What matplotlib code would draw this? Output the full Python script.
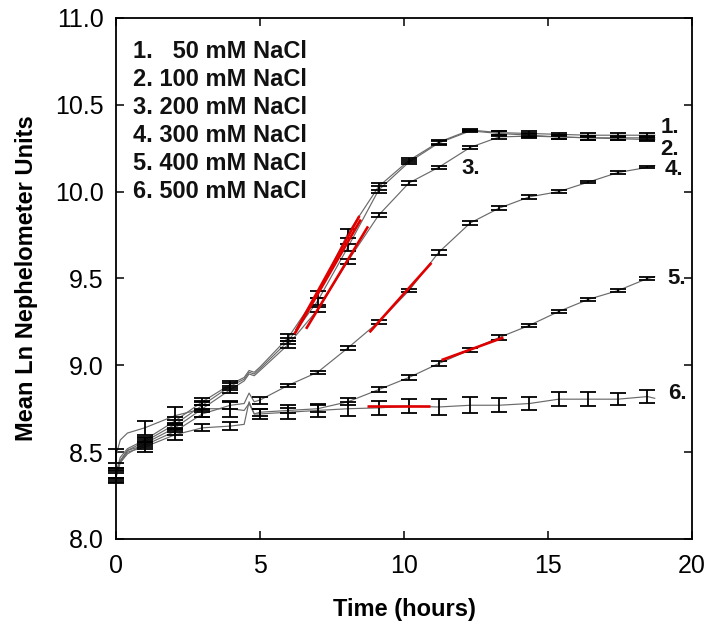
import numpy as np
import matplotlib
matplotlib.use("Agg")
import matplotlib.pyplot as plt

plt.rcParams['font.family'] = ['Liberation Sans', 'DejaVu Sans']

# ---- data ----
t_bar = [0, 1.0, 2.05, 3.0, 3.97, 5.0, 5.98, 7.0, 8.05, 9.12, 10.17, 11.2,
         12.3, 13.3, 14.35, 15.37, 16.4, 17.42, 18.45]

s1 = [8.38, 8.57, 8.68, 8.79, 8.89, 8.99, 9.16, 9.41, 9.76, 10.03, 10.18, 10.285,
      10.355, 10.34, 10.335, 10.33, 10.325, 10.325, 10.325]
s2 = [8.37, 8.56, 8.66, 8.77, 8.88, 8.98, 9.14, 9.37, 9.68, 10.01, 10.17, 10.28,
      10.35, 10.335, 10.325, 10.315, 10.31, 10.305, 10.30]
s3 = [8.36, 8.55, 8.64, 8.75, 8.86, 8.97, 9.12, 9.32, 9.60, 9.865, 10.05, 10.14,
      10.255, 10.315, 10.32, 10.315, 10.31, 10.31, 10.31]
s4 = [8.35, 8.54, 8.62, 8.72, 8.77, 8.80, 8.885, 8.96, 9.10, 9.25, 9.43, 9.65,
      9.82, 9.905, 9.97, 10.0, 10.055, 10.11, 10.14]
s5 = [8.38, 8.53, 8.60, 8.64, 8.65, 8.73, 8.74, 8.75, 8.79, 8.86, 8.93, 9.01,
      9.09, 9.16, 9.23, 9.31, 9.38, 9.43, 9.50]
s6 = [8.48, 8.64, 8.71, 8.75, 8.75, 8.72, 8.73, 8.74, 8.75, 8.755, 8.765, 8.76,
      8.77, 8.77, 8.78, 8.805, 8.805, 8.805, 8.82]

nan = float('nan')
e1 = [0.03, 0.02, 0.025, 0.02, 0.02, nan, 0.02, 0.02, 0.025, 0.02, 0.012, 0.01,
      0.004, 0.012, 0.012, 0.01, 0.012, 0.01, 0.01]
e2 = [0.03, 0.02, 0.025, 0.02, 0.02, nan, 0.02, 0.02, 0.02, 0.02, 0.012, 0.01,
      0.006, 0.012, 0.01, 0.01, 0.01, 0.01, 0.01]
e3 = [0.03, 0.02, 0.025, 0.02, 0.02, nan, 0.02, 0.015, 0.015, 0.012, 0.01, 0.01,
      0.01, 0.012, 0.01, 0.01, 0.01, 0.01, 0.01]
e4 = [0.03, 0.02, 0.02, 0.02, 0.02, 0.02, 0.01, 0.01, 0.01, 0.01, 0.01, 0.012,
      0.012, 0.012, 0.01, 0.008, 0.008, 0.008, 0.006]
e5 = [0.03, 0.03, 0.03, 0.02, 0.025, 0.02, 0.015, 0.02, 0.02, 0.015, 0.015, 0.012,
      0.012, 0.012, 0.01, 0.01, 0.01, 0.01, 0.01]
e6 = [0.04, 0.04, 0.05, 0.045, 0.045, 0.03, 0.04, 0.04, 0.04, 0.04, 0.04, 0.045,
      0.045, 0.04, 0.04, 0.04, 0.04, 0.035, 0.035]

# extra points of the continuous traces (early rise, bump near 4.6 h, tail)
t_extra = [0.15, 0.4, 4.45, 4.62, 4.8, 18.7]
x1 = [8.47, 8.52, 8.93, 8.97, 8.96, 10.325]
x2 = [8.45, 8.51, 8.92, 8.96, 8.95, 10.30]
x3 = [8.44, 8.49, 8.91, 8.95, 8.94, 10.31]
x4 = [8.45, 8.51, 8.78, 8.84, 8.79, 10.15]
x5 = [8.44, 8.50, 8.66, 8.79, 8.72, 9.51]
x6 = [8.57, 8.61, 8.74, 8.78, 8.72, 8.81]

# red fitted segments (start time, end time, start value, end value)
fit_t0 = [6.25, 6.2, 6.6, 8.8, 11.3, 8.7]
fit_t1 = [8.45, 8.5, 8.75, 10.95, 13.45, 10.9]
fit_v0 = [9.20, 9.18, 9.21, 9.19, 9.03, 8.765]
fit_v1 = [9.86, 9.84, 9.80, 9.59, 9.16, 8.765]

legend_lines = ["1.   50 mM NaCl", "2. 100 mM NaCl", "3. 200 mM NaCl",
                "4. 300 mM NaCl", "5. 400 mM NaCl", "6. 500 mM NaCl"]
end_labels = ["1.", "2.", "3.", "4.", "5.", "6."]
end_label_t = [18.9, 18.9, 12.0, 19.05, 19.15, 19.15]
end_label_v = [10.37, 10.24, 10.135, 10.125, 9.50, 8.84]

x_ticks = [0, 5, 10, 15, 20]
y_ticks = [8.0, 8.5, 9.0, 9.5, 10.0, 10.5, 11.0]

# ---- plot ----
fig = plt.figure(figsize=(7.07, 6.27), dpi=100)
ax = fig.add_axes([0.164, 0.1404, 0.815, 0.8309])

means = [s1, s2, s3, s4, s5, s6]
errs = [e1, e2, e3, e4, e5, e6]
extras = [x1, x2, x3, x4, x5, x6]

for m, e, xe in zip(means, errs, extras):
    tt = np.array(t_bar + t_extra)
    vv = np.array(m + xe)
    order = np.argsort(tt)
    ax.plot(tt[order], vv[order], color='#6a6a6a', lw=0.85, zorder=2)
    eb = ax.errorbar(t_bar, m, yerr=np.array(e), fmt='none', ecolor='black',
                     elinewidth=1.3, capsize=6, capthick=1.3, zorder=3)
    for art in eb.lines[1] + eb.lines[2]:
        art.set_clip_on(False)

for a, b, c, d in zip(fit_t0, fit_t1, fit_v0, fit_v1):
    ax.plot([a, b], [c, d], color='#e00000', lw=1.9, zorder=4,
            solid_capstyle='butt')

for lab, tx, ty in zip(end_labels, end_label_t, end_label_v):
    ax.text(tx, ty, lab, fontsize=16, fontweight='bold', ha='left',
            va='center', color='#111111')

for i, s in enumerate(legend_lines):
    ax.text(0.030, 0.935 - i * 0.0537, s, transform=ax.transAxes,
            fontsize=17, fontweight='bold', ha='left', va='center',
            color='#111111')

ax.set_xlim(0, 20)
ax.set_ylim(8.0, 11.0)
ax.set_xticks(x_ticks)
ax.set_xticklabels([str(v) for v in x_ticks])
ax.set_yticks(y_ticks)
ax.set_yticklabels([f"{v:.1f}" for v in y_ticks])
ax.tick_params(direction='in', length=6, width=1.1, top=True, right=True,
               labelsize=18, pad=9, colors='black')
ax.tick_params(axis='x', pad=11)
for sp in ax.spines.values():
    sp.set_linewidth(1.3)

ax.set_xlabel("Time (hours)", fontsize=17, fontweight='bold', labelpad=14)
ax.set_ylabel("Mean Ln Nephelometer Units", fontsize=17, fontweight='bold',
              labelpad=12)

fig.savefig("out.png", dpi=100)
